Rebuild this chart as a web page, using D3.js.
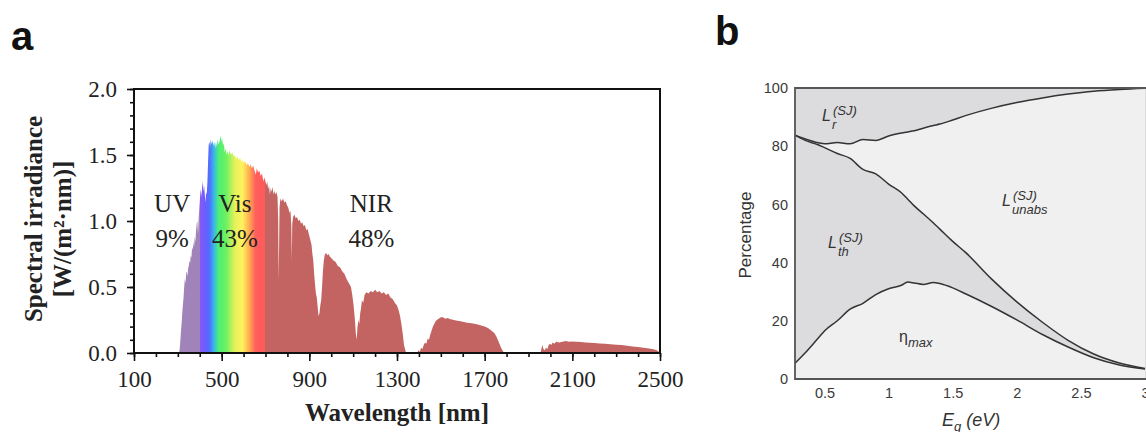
<!DOCTYPE html>
<html lang="en">
<head>
    <script src="https://d3js.org/d3.v7.min.js"></script>
    <style>
        body { margin: 0; background: #fff; }
        .serif { font-family: "Liberation Serif", "Times New Roman", serif; fill: #222; }
        .sans { font-family: "Liberation Sans", Arial, sans-serif; }
        .axis-a text { font-family: "Liberation Serif", "Times New Roman", serif; font-size: 23px; fill: #222; }
        .axis-a line { stroke: #111; stroke-width: 1.6px; }
        .axis-b text { font-family: "Liberation Sans", Arial, sans-serif; font-size: 14.5px; fill: #3a3a3a; }
        .curve { fill: none; stroke: #333; stroke-width: 1.5px; }
    </style>
</head>
<body>
    <div id="chart"></div>

    <script>
        // ---- panel a: solar spectrum, [wavelength nm, W/(m2 nm)] ----
        const uvSpectrum = [
            [305, 0], [308, 0.02], [311, 0.08], [314, 0.16], [317, 0.22], [320, 0.3], [323, 0.36],
            [326, 0.42], [329, 0.5], [332, 0.56], [335, 0.53], [338, 0.6], [341, 0.62], [344, 0.58],
            [347, 0.64], [350, 0.66], [353, 0.7], [356, 0.68], [359, 0.74], [362, 0.72], [365, 0.8],
            [368, 0.78], [371, 0.84], [374, 0.8], [377, 0.88], [380, 0.84], [383, 0.92], [386, 0.98],
            [389, 1.0], [392, 0.9], [395, 1.02], [398, 1.1], [400, 1.15]
        ];
        const visSpectrum = [
            [402, 1.2], [405, 1.24], [408, 1.18], [411, 1.26], [414, 1.3], [417, 1.22], [420, 1.27],
            [423, 1.2], [426, 1.14], [429, 1.22], [432, 1.2], [435, 1.3], [438, 1.45], [441, 1.58],
            [444, 1.6], [447, 1.56], [450, 1.62], [454, 1.58], [458, 1.61], [462, 1.57], [466, 1.6],
            [470, 1.55], [474, 1.6], [478, 1.56], [482, 1.62], [486, 1.58], [490, 1.6], [494, 1.65],
            [498, 1.6], [502, 1.63], [506, 1.57], [510, 1.59], [514, 1.52], [518, 1.55], [522, 1.5],
            [527, 1.53], [532, 1.5], [537, 1.54], [542, 1.5], [548, 1.52], [554, 1.49], [560, 1.5],
            [566, 1.47], [572, 1.49], [578, 1.46], [584, 1.48], [590, 1.45], [596, 1.46], [602, 1.44],
            [608, 1.45], [614, 1.42], [620, 1.44], [626, 1.41], [632, 1.43], [638, 1.4], [644, 1.42],
            [650, 1.38], [656, 1.35], [660, 1.4], [666, 1.37], [672, 1.38], [678, 1.34], [684, 1.36],
            [690, 1.3], [695, 1.33], [700, 1.3]
        ];
        const nirSpectrum = [
            [704, 1.27], [708, 1.3], [712, 1.24], [716, 1.27], [720, 1.2], [724, 1.25], [728, 1.22],
            [732, 1.26], [736, 1.2], [740, 1.23], [745, 1.2], [750, 1.22], [755, 1.18], [758, 1.0],
            [760, 0.55], [762, 0.8], [764, 1.1], [768, 1.17], [774, 1.15], [780, 1.17], [786, 1.14],
            [792, 1.15], [798, 1.12], [804, 1.1], [810, 1.06], [814, 1.08], [818, 0.95], [820, 0.7],
            [822, 0.98], [826, 1.03], [832, 1.05], [838, 1.02], [844, 1.03], [850, 1.0], [856, 1.01],
            [862, 0.98], [868, 0.99], [874, 0.96], [880, 0.97], [886, 0.93], [892, 0.94], [898, 0.9],
            [904, 0.86], [910, 0.82], [914, 0.75], [918, 0.7], [922, 0.6], [926, 0.52], [930, 0.45],
            [934, 0.42], [938, 0.35], [942, 0.28], [946, 0.3], [950, 0.36], [954, 0.4], [958, 0.5],
            [962, 0.62], [966, 0.7], [970, 0.74], [976, 0.76], [982, 0.74], [988, 0.75], [994, 0.73],
            [1000, 0.72], [1010, 0.7], [1020, 0.69], [1030, 0.66], [1040, 0.65], [1050, 0.62],
            [1060, 0.6], [1070, 0.56], [1080, 0.53], [1090, 0.5], [1096, 0.44], [1102, 0.36],
            [1108, 0.25], [1112, 0.15], [1116, 0.1], [1120, 0.2], [1124, 0.25], [1128, 0.22],
            [1132, 0.3], [1136, 0.34], [1140, 0.4], [1146, 0.38], [1152, 0.44], [1160, 0.46],
            [1170, 0.45], [1180, 0.47], [1190, 0.46], [1200, 0.48], [1210, 0.46], [1220, 0.47],
            [1230, 0.45], [1240, 0.46], [1250, 0.44], [1260, 0.45], [1270, 0.42], [1280, 0.41],
            [1290, 0.38], [1300, 0.36], [1308, 0.32], [1314, 0.28], [1320, 0.22], [1326, 0.15],
            [1332, 0.06], [1338, 0.02], [1342, 0],
            [1392, 0], [1398, 0.02], [1404, 0.01], [1410, 0.04], [1416, 0.03], [1422, 0.06],
            [1428, 0.08], [1434, 0.07], [1440, 0.11], [1446, 0.1], [1452, 0.14], [1458, 0.17],
            [1464, 0.2], [1470, 0.22], [1476, 0.24], [1482, 0.25], [1490, 0.26], [1500, 0.27],
            [1510, 0.27], [1520, 0.26], [1530, 0.265], [1545, 0.255], [1560, 0.25], [1575, 0.245],
            [1590, 0.24], [1605, 0.235], [1620, 0.23], [1640, 0.225], [1660, 0.22], [1680, 0.21],
            [1700, 0.2], [1715, 0.19], [1730, 0.17], [1745, 0.15], [1755, 0.12], [1765, 0.08],
            [1775, 0.04], [1785, 0.01], [1792, 0],
            [1955, 0], [1960, 0.04], [1964, 0.06], [1968, 0.03], [1974, 0.02], [1980, 0.04],
            [1986, 0.03], [1992, 0.06], [1998, 0.07], [2004, 0.06], [2010, 0.08], [2018, 0.07],
            [2026, 0.085], [2040, 0.08], [2055, 0.085], [2070, 0.09], [2085, 0.085], [2100, 0.088],
            [2120, 0.085], [2140, 0.083], [2160, 0.08], [2180, 0.078], [2200, 0.075], [2225, 0.072],
            [2250, 0.07], [2275, 0.066], [2300, 0.063], [2325, 0.06], [2350, 0.055], [2375, 0.05],
            [2400, 0.045], [2425, 0.04], [2450, 0.035], [2470, 0.028], [2485, 0.02], [2495, 0.01],
            [2500, 0]
        ];
        const bandLabels = ['UV', 'Vis', 'NIR'];
        const bandShares = ['9%', '43%', '48%'];
        const bandLabelNm = [274, 560, 1183];
        const xTicksA = [100, 500, 900, 1300, 1700, 2100, 2500];
        const yTicksA = [0, 0.5, 1.0, 1.5, 2.0];

        // colour stops of the rainbow fill (nm -> colour)
        const gradNm = [100, 400, 400, 425, 445, 465, 485, 520, 560, 595, 625, 655, 700, 700, 2500];
        const gradColor = ['#a083b8', '#a083b8', '#8a58f2', '#6a5cff', '#4f70ff', '#38b8e8', '#4cee78',
            '#6cf060', '#e4f25a', '#fff25e', '#ffae52', '#ff5e5c', '#ff5a5a', '#c46462', '#c46462'];

        // ---- panel b: loss breakdown vs band gap ----
        const bandGap = [0.27, 0.35, 0.45, 0.5, 0.6, 0.7, 0.8, 0.9, 1.0, 1.1, 1.15, 1.2, 1.27, 1.35,
            1.4, 1.5, 1.6, 1.8, 2.0, 2.2, 2.4, 2.6, 2.8, 3.0];
        const upperCurve = [83.8, 82.5, 81.2, 80.8, 81.3, 80.8, 82.3, 82.0, 83.5, 84.5, 84.9, 85.3, 86.2,
            87.1, 87.6, 89.0, 90.5, 93.0, 95.0, 96.6, 97.9, 98.9, 99.5, 99.9];
        const middleCurve = [83.8, 82.0, 80.5, 79.5, 77.5, 75.8, 72.0, 70.5, 67.0, 64.0, 61.8, 59.5, 56.8,
            53.6, 51.5, 47.3, 43.5, 34.5, 26.5, 19.5, 13.3, 8.6, 5.5, 3.6];
        const efficiencyCurve = [5.4, 9.0, 14.0, 16.5, 20.0, 24.0, 26.0, 29.0, 31.0, 32.2, 33.3, 33.0, 32.5,
            33.2, 32.8, 31.3, 29.3, 25.0, 20.3, 15.3, 11.0, 7.3, 4.8, 3.4];
        const xTicksB = [0.5, 1, 1.5, 2, 2.5, 3];
        const yTicksB = [0, 20, 40, 60, 80, 100];

        const svg = d3.select('#chart').append('svg')
            .attr('width', 1146)
            .attr('height', 432);

        // ================= panel a =================
        const xA = d3.scaleLinear().domain([100, 2500]).range([134, 660]);
        const yA = d3.scaleLinear().domain([0, 2]).range([353, 89]);
        const spectrum = uvSpectrum.concat(visSpectrum, nirSpectrum);

        const grad = svg.append('defs').append('linearGradient')
            .attr('id', 'spec')
            .attr('gradientUnits', 'userSpaceOnUse')
            .attr('x1', xA(100)).attr('x2', xA(2500))
            .attr('y1', 0).attr('y2', 0);
        gradNm.forEach((nm, i) => {
            grad.append('stop')
                .attr('offset', (xA(nm) - xA(100)) / (xA(2500) - xA(100)))
                .attr('stop-color', gradColor[i]);
        });

        svg.append('path')
            .datum(spectrum)
            .attr('fill', 'url(#spec)')
            .attr('d', d3.area().x(d => xA(d[0])).y0(yA(0)).y1(d => yA(d[1])));

        // minor + major ticks
        const gxA = svg.append('g').attr('class', 'axis-a').attr('transform', `translate(0,${yA(0)})`);
        gxA.call(d3.axisBottom(xA).tickValues(d3.range(100, 2501, 100)).tickSize(4).tickFormat(''));
        gxA.append('g').call(d3.axisBottom(xA).tickValues(xTicksA).tickSize(8).tickPadding(10).tickFormat(d3.format('d')));
        const gyA = svg.append('g').attr('class', 'axis-a').attr('transform', `translate(${xA(100)},0)`);
        gyA.call(d3.axisLeft(yA).tickValues(d3.range(0, 2.01, 0.1)).tickSize(4).tickFormat(''));
        gyA.append('g').call(d3.axisLeft(yA).tickValues(yTicksA).tickSize(7).tickPadding(10).tickFormat(d3.format('.1f')));
        svg.selectAll('.axis-a .domain').remove();

        svg.append('rect')
            .attr('x', xA(100)).attr('y', yA(2))
            .attr('width', xA(2500) - xA(100)).attr('height', yA(0) - yA(2))
            .attr('fill', 'none').attr('stroke', '#111').attr('stroke-width', 2);

        bandLabels.forEach((t, i) => {
            svg.append('text').attr('class', 'serif')
                .attr('x', xA(bandLabelNm[i])).attr('y', yA(1.07))
                .attr('text-anchor', 'middle').attr('font-size', 25).text(t);
            svg.append('text').attr('class', 'serif')
                .attr('x', xA(bandLabelNm[i])).attr('y', yA(0.8))
                .attr('text-anchor', 'middle').attr('font-size', 25).text(bandShares[i]);
        });

        svg.append('text').attr('class', 'serif')
            .attr('x', (xA(100) + xA(2500)) / 2).attr('y', 421)
            .attr('text-anchor', 'middle').attr('font-size', 25).attr('font-weight', 'bold')
            .text('Wavelength [nm]');
        svg.append('text').attr('class', 'serif')
            .attr('transform', 'translate(42,219) rotate(-90)')
            .attr('text-anchor', 'middle').attr('font-size', 25).attr('font-weight', 'bold')
            .text('Spectral irradiance');
        svg.append('text').attr('class', 'serif')
            .attr('transform', 'translate(71,229) rotate(-90)')
            .attr('text-anchor', 'middle').attr('font-size', 25).attr('font-weight', 'bold')
            .text('[W/(m²·nm)]');

        svg.append('text').attr('class', 'sans')
            .attr('x', 11).attr('y', 50).attr('font-size', 40).attr('font-weight', 'bold')
            .attr('fill', '#111').text('a');

        // ================= panel b =================
        const xB = d3.scaleLinear().domain([0.27, 3.0]).range([795, 1145]);
        const yB = d3.scaleLinear().domain([0, 100]).range([379, 88]);
        const rows = bandGap.map((g, i) => ({ g, up: upperCurve[i], mid: middleCurve[i], eff: efficiencyCurve[i] }));

        svg.append('rect')
            .attr('x', xB(0.27)).attr('y', yB(100))
            .attr('width', 1146 - xB(0.27) + 5).attr('height', yB(0) - yB(100))
            .attr('fill', '#dcdcdf');

        svg.append('path').datum(rows).attr('fill', '#f0f0f0')
            .attr('d', d3.area().x(d => xB(d.g)).y0(d => yB(d.mid)).y1(d => yB(d.up)));
        svg.append('path').datum(rows).attr('fill', '#f0f0f0')
            .attr('d', d3.area().x(d => xB(d.g)).y0(yB(0)).y1(d => yB(d.eff)));

        ['up', 'mid', 'eff'].forEach(k => {
            svg.append('path').datum(rows).attr('class', 'curve')
                .attr('d', d3.line().curve(d3.curveMonotoneX).x(d => xB(d.g)).y(d => yB(d[k])));
        });

        const border = d3.path();
        border.moveTo(1150, yB(100));
        border.lineTo(xB(0.27), yB(100));
        border.lineTo(xB(0.27), yB(0));
        border.lineTo(1150, yB(0));
        svg.append('path').attr('d', border.toString())
            .attr('fill', 'none').attr('stroke', '#555').attr('stroke-width', 1.8);

        svg.append('g').attr('class', 'axis-b').attr('transform', `translate(0,${yB(0)})`)
            .call(d3.axisBottom(xB).tickValues(xTicksB).tickSize(0).tickPadding(9).tickFormat(d3.format('')));
        svg.append('g').attr('class', 'axis-b').attr('transform', `translate(${xB(0.27)},0)`)
            .call(d3.axisLeft(yB).tickValues(yTicksB).tickSize(0).tickPadding(7));
        svg.selectAll('.axis-b .domain').remove();

        svg.append('text').attr('class', 'sans')
            .attr('transform', 'translate(751,235) rotate(-90)')
            .attr('text-anchor', 'middle').attr('font-size', 17).attr('fill', '#333')
            .text('Percentage');

        const eg = svg.append('text').attr('class', 'sans')
            .attr('x', 942).attr('y', 426).attr('font-size', 18).attr('font-style', 'italic').attr('fill', '#333');
        eg.append('tspan').text('E');
        eg.append('tspan').attr('font-size', 13).attr('dy', 5).text('g');
        eg.append('tspan').attr('dy', -5).text(' (eV)');

        // region labels: [x, baseline, subscript]
        const lossLabels = [[822, 121, 'r'], [1002, 206, 'unabs'], [828, 248, 'th']];
        lossLabels.forEach(([x, y, sub]) => {
            svg.append('text').attr('class', 'sans').attr('fill', '#333').attr('font-style', 'italic')
                .attr('x', x).attr('y', y).attr('font-size', 16).text('L');
            svg.append('text').attr('class', 'sans').attr('fill', '#333').attr('font-style', 'italic')
                .attr('x', x + 10).attr('y', y + 8).attr('font-size', 13).text(sub);
            svg.append('text').attr('class', 'sans').attr('fill', '#333').attr('font-style', 'italic')
                .attr('x', x + 11).attr('y', y - 6).attr('font-size', 13).text('(SJ)');
        });
        const eta = svg.append('text').attr('class', 'sans').attr('fill', '#333')
            .attr('x', 899).attr('y', 342).attr('font-size', 16);
        eta.append('tspan').text('η');
        eta.append('tspan').attr('font-style', 'italic').attr('font-size', 13).attr('dy', 5).text('max');

        svg.append('text').attr('class', 'sans')
            .attr('x', 715).attr('y', 45).attr('font-size', 40).attr('font-weight', 'bold')
            .attr('fill', '#111').text('b');
    </script>
</body>
</html>
